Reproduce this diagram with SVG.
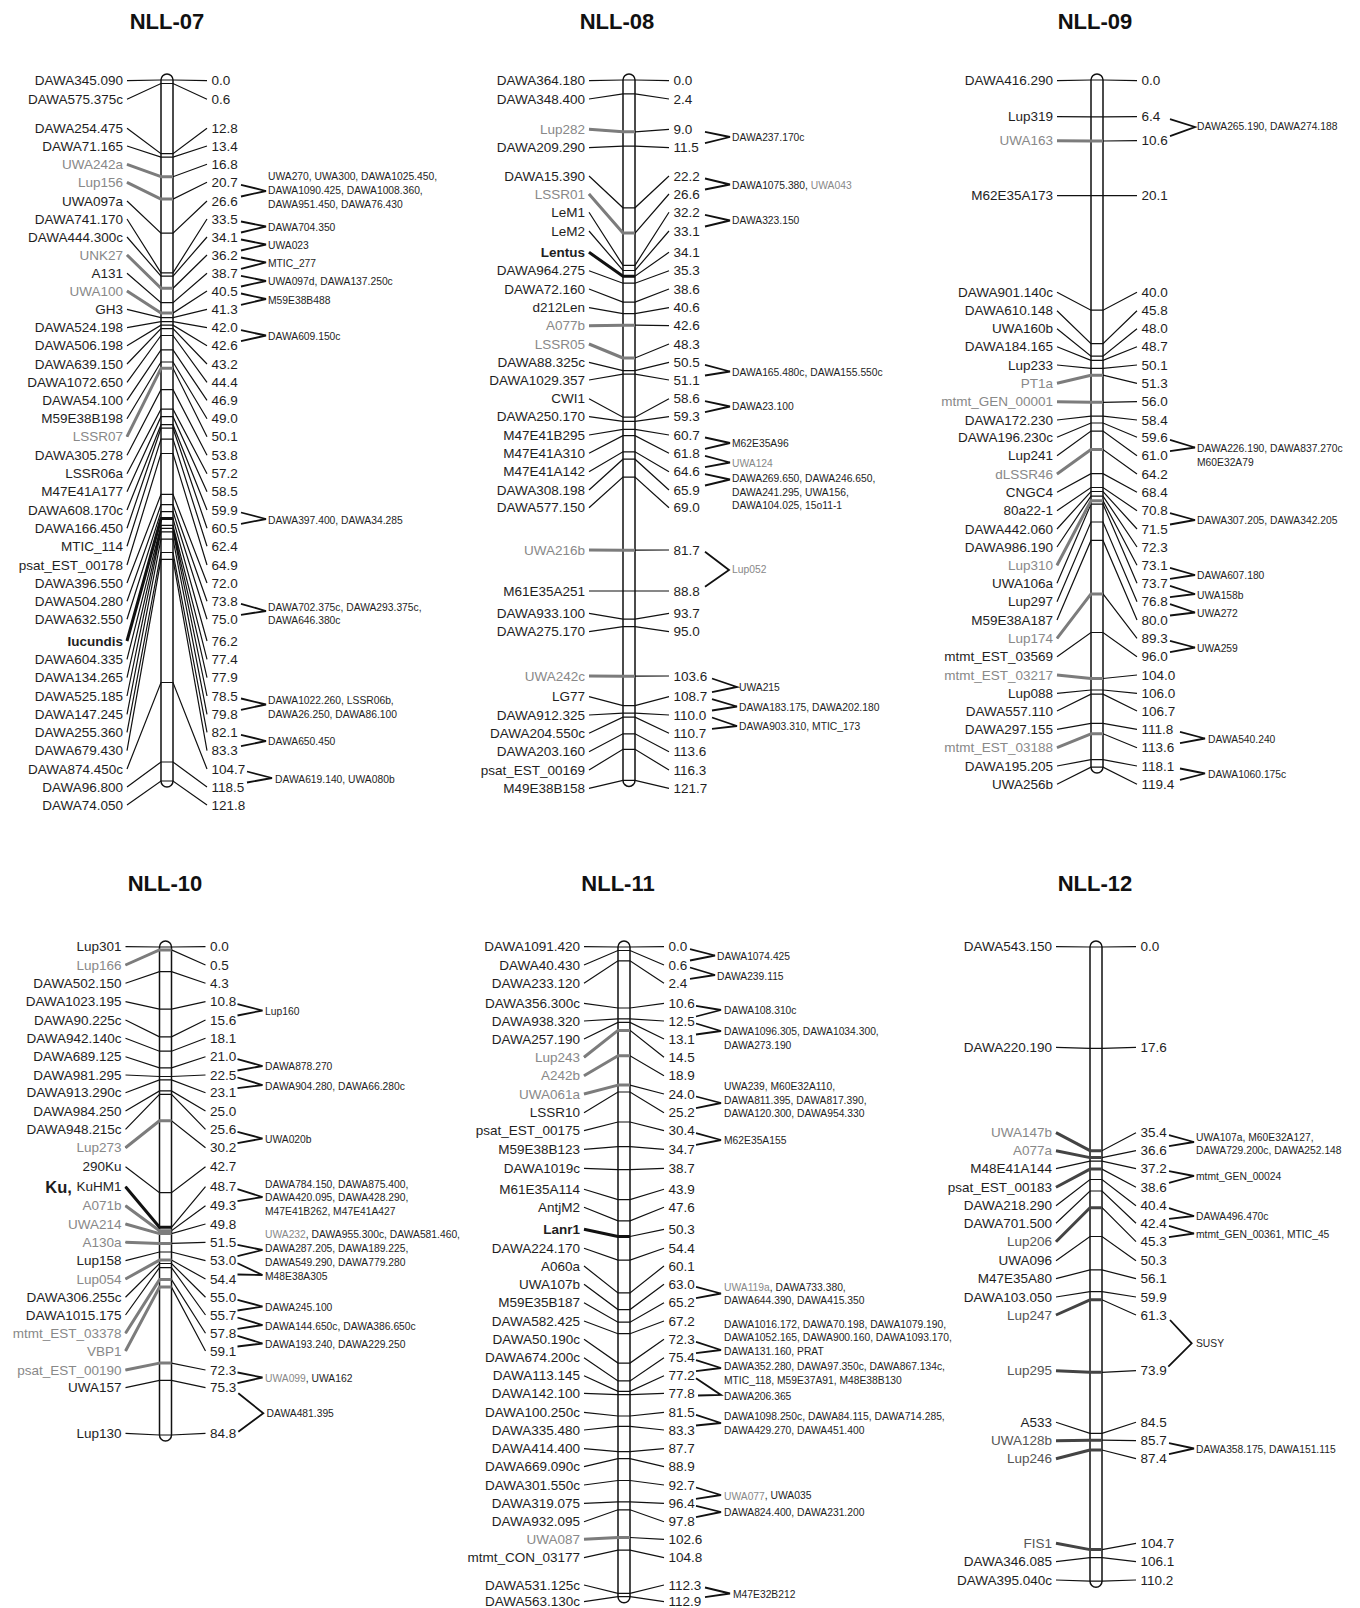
<svg xmlns="http://www.w3.org/2000/svg" width="1360" height="1608" viewBox="0 0 1360 1608">
<style>
text{font-family:"Liberation Sans",Arial,sans-serif;fill:#1e1e1e;dominant-baseline:central}
.t{font-size:22px;font-weight:bold;text-anchor:middle;fill:#111}
.l text{font-size:13.5px;text-anchor:end}
.n text{font-size:13.5px}
.s text{font-size:10.3px}
.gr{fill:#888}
.dg{fill:#555}
.bd{font-weight:bold;font-size:15px}
.bar{fill:#fff;stroke:#111;stroke-width:1.5}
.c{fill:none;stroke:#111;stroke-width:1.2}
.g{fill:none;stroke:#7c7c7c;stroke-width:3;stroke-linejoin:round}
.k{fill:none;stroke:#111;stroke-width:3;stroke-linejoin:round}
.d{fill:none;stroke:#444;stroke-width:3;stroke-linejoin:round}
.b{fill:none;stroke:#111;stroke-width:1.8}
</style>
<rect width="1360" height="1608" fill="#fff"/>

<g id="NLL-07">
<text class="t" x="167" y="21">NLL-07</text>
<rect class="bar" x="161" y="74" width="12" height="713" rx="6"/>
<g class="l">
<text x="123" y="80.7">DAWA345.090</text><text x="123" y="99.3">DAWA575.375c</text><text x="123" y="128.3">DAWA254.475</text><text x="123" y="146">DAWA71.165</text><text x="123" y="164.3" class="gr">UWA242a</text><text x="123" y="182.3" class="gr">Lup156</text><text x="123" y="201">UWA097a</text><text x="123" y="219">DAWA741.170</text><text x="123" y="237">DAWA444.300c</text><text x="123" y="255" class="gr">UNK27</text><text x="123" y="273.3">A131</text><text x="123" y="291" class="gr">UWA100</text><text x="123" y="309.3">GH3</text><text x="123" y="327.7">DAWA524.198</text><text x="123" y="345.7">DAWA506.198</text><text x="123" y="364">DAWA639.150</text><text x="123" y="382.3">DAWA1072.650</text><text x="123" y="400.3">DAWA54.100</text><text x="123" y="418.7">M59E38B198</text><text x="123" y="436.7" class="gr">LSSR07</text><text x="123" y="455.3">DAWA305.278</text><text x="123" y="473.7">LSSR06a</text><text x="123" y="491.7">M47E41A177</text><text x="123" y="510">DAWA608.170c</text><text x="123" y="528.3">DAWA166.450</text><text x="123" y="546.3">MTIC_114</text><text x="123" y="565">psat_EST_00178</text><text x="123" y="583">DAWA396.550</text><text x="123" y="601.3">DAWA504.280</text><text x="123" y="619.3">DAWA632.550</text><text x="123" y="641" class="bd">Iucundis</text><text x="123" y="659.3">DAWA604.335</text><text x="123" y="677.7">DAWA134.265</text><text x="123" y="696">DAWA525.185</text><text x="123" y="714.3">DAWA147.245</text><text x="123" y="732.3">DAWA255.360</text><text x="123" y="750.7">DAWA679.430</text><text x="123" y="769">DAWA874.450c</text><text x="123" y="787">DAWA96.800</text><text x="123" y="805">DAWA74.050</text>
</g>
<g class="n">
<text x="211.5" y="80.7">0.0</text><text x="211.5" y="99.3">0.6</text><text x="211.5" y="128.3">12.8</text><text x="211.5" y="146">13.4</text><text x="211.5" y="164.3">16.8</text><text x="211.5" y="182.3">20.7</text><text x="211.5" y="201">26.6</text><text x="211.5" y="219">33.5</text><text x="211.5" y="237">34.1</text><text x="211.5" y="255">36.2</text><text x="211.5" y="273.3">38.7</text><text x="211.5" y="291">40.5</text><text x="211.5" y="309.3">41.3</text><text x="211.5" y="327.7">42.0</text><text x="211.5" y="345.7">42.6</text><text x="211.5" y="364">43.2</text><text x="211.5" y="382.3">44.4</text><text x="211.5" y="400.3">46.9</text><text x="211.5" y="418.7">49.0</text><text x="211.5" y="436.7">50.1</text><text x="211.5" y="455.3">53.8</text><text x="211.5" y="473.7">57.2</text><text x="211.5" y="491.7">58.5</text><text x="211.5" y="510">59.9</text><text x="211.5" y="528.3">60.5</text><text x="211.5" y="546.3">62.4</text><text x="211.5" y="565">64.9</text><text x="211.5" y="583">72.0</text><text x="211.5" y="601.3">73.8</text><text x="211.5" y="619.3">75.0</text><text x="211.5" y="641">76.2</text><text x="211.5" y="659.3">77.4</text><text x="211.5" y="677.7">77.9</text><text x="211.5" y="696">78.5</text><text x="211.5" y="714.3">79.8</text><text x="211.5" y="732.3">82.1</text><text x="211.5" y="750.7">83.3</text><text x="211.5" y="769">104.7</text><text x="211.5" y="787">118.5</text><text x="211.5" y="805">121.8</text>
</g>
<g class="s">
<text x="268" y="176.7">UWA270, UWA300, DAWA1025.450,</text><text x="268" y="190.7">DAWA1090.425, DAWA1008.360,</text><text x="268" y="204.3">DAWA951.450, DAWA76.430</text>
<text x="268" y="227">DAWA704.350</text><text x="268" y="245">UWA023</text><text x="268" y="263.3">MTIC_277</text><text x="268" y="281.7">UWA097d, DAWA137.250c</text><text x="268" y="300">M59E38B488</text><text x="268" y="336">DAWA609.150c</text><text x="268" y="520">DAWA397.400, DAWA34.285</text>
<text x="268" y="607.3">DAWA702.375c, DAWA293.375c,</text><text x="268" y="620.7">DAWA646.380c</text>
<text x="268" y="700.7">DAWA1022.260, LSSR06b,</text><text x="268" y="714">DAWA26.250, DAWA86.100</text>
<text x="268" y="741.7">DAWA650.450</text><text x="275" y="779">DAWA619.140, UWA080b</text>
</g>
</g>

<g id="NLL-08">
<text class="t" x="617" y="21">NLL-08</text>
<rect class="bar" x="623" y="74" width="12" height="712.4" rx="6"/>
<g class="l">
<text x="585" y="80.7">DAWA364.180</text><text x="585" y="99">DAWA348.400</text><text x="585" y="129.3" class="gr">Lup282</text><text x="585" y="147.7">DAWA209.290</text><text x="585" y="176">DAWA15.390</text><text x="585" y="194" class="gr">LSSR01</text><text x="585" y="212.3">LeM1</text><text x="585" y="231">LeM2</text><text x="585" y="252.3" class="bd">Lentus</text><text x="585" y="270.7">DAWA964.275</text><text x="585" y="289">DAWA72.160</text><text x="585" y="307.7">d212Len</text><text x="585" y="325.7" class="gr">A077b</text><text x="585" y="344" class="gr">LSSR05</text><text x="585" y="362.3">DAWA88.325c</text><text x="585" y="380">DAWA1029.357</text><text x="585" y="398.7">CWI1</text><text x="585" y="416.7">DAWA250.170</text><text x="585" y="435">M47E41B295</text><text x="585" y="453.3">M47E41A310</text><text x="585" y="471.7">M47E41A142</text><text x="585" y="490">DAWA308.198</text><text x="585" y="507.7">DAWA577.150</text><text x="585" y="550" class="gr">UWA216b</text><text x="585" y="591">M61E35A251</text><text x="585" y="613.3">DAWA933.100</text><text x="585" y="631.7">DAWA275.170</text><text x="585" y="676" class="gr">UWA242c</text><text x="585" y="696.7">LG77</text><text x="585" y="715">DAWA912.325</text><text x="585" y="733.3">DAWA204.550c</text><text x="585" y="751.7">DAWA203.160</text><text x="585" y="770">psat_EST_00169</text><text x="585" y="788.3">M49E38B158</text>
</g>
<g class="n">
<text x="673.5" y="80.7">0.0</text><text x="673.5" y="99">2.4</text><text x="673.5" y="129.3">9.0</text><text x="673.5" y="147.7">11.5</text><text x="673.5" y="176">22.2</text><text x="673.5" y="194">26.6</text><text x="673.5" y="212.3">32.2</text><text x="673.5" y="231">33.1</text><text x="673.5" y="252.3">34.1</text><text x="673.5" y="270.7">35.3</text><text x="673.5" y="289">38.6</text><text x="673.5" y="307.7">40.6</text><text x="673.5" y="325.7">42.6</text><text x="673.5" y="344">48.3</text><text x="673.5" y="362.3">50.5</text><text x="673.5" y="380">51.1</text><text x="673.5" y="398.7">58.6</text><text x="673.5" y="416.7">59.3</text><text x="673.5" y="435">60.7</text><text x="673.5" y="453.3">61.8</text><text x="673.5" y="471.7">64.6</text><text x="673.5" y="490">65.9</text><text x="673.5" y="507.7">69.0</text><text x="673.5" y="550">81.7</text><text x="673.5" y="591">88.8</text><text x="673.5" y="613.3">93.7</text><text x="673.5" y="631.7">95.0</text><text x="673.5" y="676">103.6</text><text x="673.5" y="696.7">108.7</text><text x="673.5" y="715">110.0</text><text x="673.5" y="733.3">110.7</text><text x="673.5" y="751.7">113.6</text><text x="673.5" y="770">116.3</text><text x="673.5" y="788.3">121.7</text>
</g>
<g class="s">
<text x="732" y="137.3">DAWA237.170c</text><text x="732" y="185">DAWA1075.380, <tspan class="gr">UWA043</tspan></text><text x="732" y="220.5">DAWA323.150</text><text x="732" y="372.3">DAWA165.480c, DAWA155.550c</text><text x="732" y="406.5">DAWA23.100</text><text x="732" y="443.3">M62E35A96</text><text x="732" y="463.3" class="gr">UWA124</text>
<text x="732" y="478.3">DAWA269.650, DAWA246.650,</text><text x="732" y="492">DAWA241.295, UWA156,</text><text x="732" y="505.3">DAWA104.025, 15o11-1</text>
<text x="732" y="569.5" class="gr">Lup052</text><text x="739" y="687.3">UWA215</text><text x="739" y="707.3">DAWA183.175, DAWA202.180</text><text x="739" y="726.7">DAWA903.310, MTIC_173</text>
</g>
</g>

<g id="NLL-09">
<text class="t" x="1095" y="21">NLL-09</text>
<rect class="bar" x="1091" y="74" width="12" height="699.1" rx="6"/>
<g class="l">
<text x="1053" y="80.7">DAWA416.290</text><text x="1053" y="116.7">Lup319</text><text x="1053" y="140.7" class="gr">UWA163</text><text x="1053" y="195.7">M62E35A173</text><text x="1053" y="292.3">DAWA901.140c</text><text x="1053" y="310.7">DAWA610.148</text><text x="1053" y="328.7">UWA160b</text><text x="1053" y="346.7">DAWA184.165</text><text x="1053" y="365">Lup233</text><text x="1053" y="383.3" class="gr">PT1a</text><text x="1053" y="401.7" class="gr">mtmt_GEN_00001</text><text x="1053" y="420">DAWA172.230</text><text x="1053" y="437.3">DAWA196.230c</text><text x="1053" y="455.7">Lup241</text><text x="1053" y="474" class="gr">dLSSR46</text><text x="1053" y="492.3">CNGC4</text><text x="1053" y="510.7">80a22-1</text><text x="1053" y="529">DAWA442.060</text><text x="1053" y="547">DAWA986.190</text><text x="1053" y="565.3" class="gr">Lup310</text><text x="1053" y="583.3">UWA106a</text><text x="1053" y="601.7">Lup297</text><text x="1053" y="620">M59E38A187</text><text x="1053" y="638.3" class="gr">Lup174</text><text x="1053" y="656.7">mtmt_EST_03569</text><text x="1053" y="675" class="gr">mtmt_EST_03217</text><text x="1053" y="693.3">Lup088</text><text x="1053" y="711">DAWA557.110</text><text x="1053" y="729.3">DAWA297.155</text><text x="1053" y="747.7" class="gr">mtmt_EST_03188</text><text x="1053" y="766">DAWA195.205</text><text x="1053" y="784.3">UWA256b</text>
</g>
<g class="n">
<text x="1141.5" y="80.7">0.0</text><text x="1141.5" y="116.7">6.4</text><text x="1141.5" y="140.7">10.6</text><text x="1141.5" y="195.7">20.1</text><text x="1141.5" y="292.3">40.0</text><text x="1141.5" y="310.7">45.8</text><text x="1141.5" y="328.7">48.0</text><text x="1141.5" y="346.7">48.7</text><text x="1141.5" y="365">50.1</text><text x="1141.5" y="383.3">51.3</text><text x="1141.5" y="401.7">56.0</text><text x="1141.5" y="420">58.4</text><text x="1141.5" y="437.3">59.6</text><text x="1141.5" y="455.7">61.0</text><text x="1141.5" y="474">64.2</text><text x="1141.5" y="492.3">68.4</text><text x="1141.5" y="510.7">70.8</text><text x="1141.5" y="529">71.5</text><text x="1141.5" y="547">72.3</text><text x="1141.5" y="565.3">73.1</text><text x="1141.5" y="583.3">73.7</text><text x="1141.5" y="601.7">76.8</text><text x="1141.5" y="620">80.0</text><text x="1141.5" y="638.3">89.3</text><text x="1141.5" y="656.7">96.0</text><text x="1141.5" y="675">104.0</text><text x="1141.5" y="693.3">106.0</text><text x="1141.5" y="711">106.7</text><text x="1141.5" y="729.3">111.8</text><text x="1141.5" y="747.7">113.6</text><text x="1141.5" y="766">118.1</text><text x="1141.5" y="784.3">119.4</text>
</g>
<g class="s">
<text x="1197" y="126.7">DAWA265.190, DAWA274.188</text>
<text x="1197" y="448.3">DAWA226.190, DAWA837.270c</text><text x="1197" y="462.3">M60E32A79</text>
<text x="1197" y="520.7">DAWA307.205, DAWA342.205</text><text x="1197" y="575.7">DAWA607.180</text><text x="1197" y="595">UWA158b</text><text x="1197" y="613.3">UWA272</text><text x="1197" y="648.3">UWA259</text><text x="1208" y="739.3">DAWA540.240</text><text x="1208" y="774">DAWA1060.175c</text>
</g>
</g>

<g id="NLL-10">
<text class="t" x="165" y="883.5">NLL-10</text>
<rect class="bar" x="159.5" y="941" width="12" height="500" rx="6"/>
<g class="l">
<text x="121.5" y="946.7">Lup301</text><text x="121.5" y="965" class="gr">Lup166</text><text x="121.5" y="983.3">DAWA502.150</text><text x="121.5" y="1001.7">DAWA1023.195</text><text x="121.5" y="1020">DAWA90.225c</text><text x="121.5" y="1038.3">DAWA942.140c</text><text x="121.5" y="1056.7">DAWA689.125</text><text x="121.5" y="1075">DAWA981.295</text><text x="121.5" y="1092.7">DAWA913.290c</text><text x="121.5" y="1111">DAWA984.250</text><text x="121.5" y="1129.3">DAWA948.215c</text><text x="121.5" y="1147.7" class="gr">Lup273</text><text x="121.5" y="1166.7">290Ku</text><text x="121.5" y="1186.7"><tspan font-weight="bold" font-size="16.5px">Ku, </tspan>KuHM1</text><text x="121.5" y="1205.7" class="gr">A071b</text><text x="121.5" y="1224" class="gr">UWA214</text><text x="121.5" y="1242.3" class="gr">A130a</text><text x="121.5" y="1260.7">Lup158</text><text x="121.5" y="1279" class="gr">Lup054</text><text x="121.5" y="1297.3">DAWA306.255c</text><text x="121.5" y="1315">DAWA1015.175</text><text x="121.5" y="1333.3" class="gr">mtmt_EST_03378</text><text x="121.5" y="1351" class="gr">VBP1</text><text x="121.5" y="1370" class="gr">psat_EST_00190</text><text x="121.5" y="1387.7">UWA157</text><text x="121.5" y="1433.3">Lup130</text>
</g>
<g class="n">
<text x="210" y="946.7">0.0</text><text x="210" y="965">0.5</text><text x="210" y="983.3">4.3</text><text x="210" y="1001.7">10.8</text><text x="210" y="1020">15.6</text><text x="210" y="1038.3">18.1</text><text x="210" y="1056.7">21.0</text><text x="210" y="1075">22.5</text><text x="210" y="1092.7">23.1</text><text x="210" y="1111">25.0</text><text x="210" y="1129.3">25.6</text><text x="210" y="1147.7">30.2</text><text x="210" y="1166.7">42.7</text><text x="210" y="1186.7">48.7</text><text x="210" y="1205.7">49.3</text><text x="210" y="1224">49.8</text><text x="210" y="1242.3">51.5</text><text x="210" y="1260.7">53.0</text><text x="210" y="1279">54.4</text><text x="210" y="1297.3">55.0</text><text x="210" y="1315">55.7</text><text x="210" y="1333.3">57.8</text><text x="210" y="1351">59.1</text><text x="210" y="1370">72.3</text><text x="210" y="1387.7">75.3</text><text x="210" y="1433.3">84.8</text>
</g>
<g class="s">
<text x="265" y="1011">Lup160</text><text x="265" y="1066.7">DAWA878.270</text><text x="265" y="1086">DAWA904.280, DAWA66.280c</text><text x="265" y="1139.3">UWA020b</text>
<text x="265" y="1184">DAWA784.150, DAWA875.400,</text><text x="265" y="1197.7">DAWA420.095, DAWA428.290,</text><text x="265" y="1211">M47E41B262, M47E41A427</text>
<text x="265" y="1234.3"><tspan class="gr">UWA232</tspan>, DAWA955.300c, DAWA581.460,</text><text x="265" y="1248.3">DAWA287.205, DAWA189.225,</text><text x="265" y="1262">DAWA549.290, DAWA779.280</text>
<text x="265" y="1276.7">M48E38A305</text><text x="265" y="1307.3">DAWA245.100</text><text x="265" y="1326">DAWA144.650c, DAWA386.650c</text><text x="265" y="1344.3">DAWA193.240, DAWA229.250</text><text x="265" y="1378.3"><tspan class="gr">UWA099</tspan>, UWA162</text><text x="266.5" y="1413.3">DAWA481.395</text>
</g>
</g>

<g id="NLL-11">
<text class="t" x="618" y="883.5">NLL-11</text>
<rect class="bar" x="618" y="941" width="12" height="661.7" rx="6"/>
<g class="l">
<text x="580" y="946.7">DAWA1091.420</text><text x="580" y="965">DAWA40.430</text><text x="580" y="983.3">DAWA233.120</text><text x="580" y="1003.3">DAWA356.300c</text><text x="580" y="1021">DAWA938.320</text><text x="580" y="1039">DAWA257.190</text><text x="580" y="1057.3" class="gr">Lup243</text><text x="580" y="1075.7" class="gr">A242b</text><text x="580" y="1094" class="gr">UWA061a</text><text x="580" y="1112.7">LSSR10</text><text x="580" y="1130.7">psat_EST_00175</text><text x="580" y="1149.3">M59E38B123</text><text x="580" y="1168.3">DAWA1019c</text><text x="580" y="1189.3">M61E35A114</text><text x="580" y="1207.3">AntjM2</text><text x="580" y="1229.3" class="bd">Lanr1</text><text x="580" y="1248.3">DAWA224.170</text><text x="580" y="1266">A060a</text><text x="580" y="1284.3">UWA107b</text><text x="580" y="1302.7">M59E35B187</text><text x="580" y="1321">DAWA582.425</text><text x="580" y="1339.3">DAWA50.190c</text><text x="580" y="1357.7">DAWA674.200c</text><text x="580" y="1375.7">DAWA113.145</text><text x="580" y="1393.3">DAWA142.100</text><text x="580" y="1412.3">DAWA100.250c</text><text x="580" y="1430">DAWA335.480</text><text x="580" y="1448.7">DAWA414.400</text><text x="580" y="1466.7">DAWA669.090c</text><text x="580" y="1485">DAWA301.550c</text><text x="580" y="1503.3">DAWA319.075</text><text x="580" y="1521.7">DAWA932.095</text><text x="580" y="1539.3" class="gr">UWA087</text><text x="580" y="1557.7">mtmt_CON_03177</text><text x="580" y="1585">DAWA531.125c</text><text x="580" y="1601.7">DAWA563.130c</text>
</g>
<g class="n">
<text x="668.5" y="946.7">0.0</text><text x="668.5" y="965">0.6</text><text x="668.5" y="983.3">2.4</text><text x="668.5" y="1003.3">10.6</text><text x="668.5" y="1021">12.5</text><text x="668.5" y="1039">13.1</text><text x="668.5" y="1057.3">14.5</text><text x="668.5" y="1075.7">18.9</text><text x="668.5" y="1094">24.0</text><text x="668.5" y="1112.7">25.2</text><text x="668.5" y="1130.7">30.4</text><text x="668.5" y="1149.3">34.7</text><text x="668.5" y="1168.3">38.7</text><text x="668.5" y="1189.3">43.9</text><text x="668.5" y="1207.3">47.6</text><text x="668.5" y="1229.3">50.3</text><text x="668.5" y="1248.3">54.4</text><text x="668.5" y="1266">60.1</text><text x="668.5" y="1284.3">63.0</text><text x="668.5" y="1302.7">65.2</text><text x="668.5" y="1321">67.2</text><text x="668.5" y="1339.3">72.3</text><text x="668.5" y="1357.7">75.4</text><text x="668.5" y="1375.7">77.2</text><text x="668.5" y="1393.3">77.8</text><text x="668.5" y="1412.3">81.5</text><text x="668.5" y="1430">83.3</text><text x="668.5" y="1448.7">87.7</text><text x="668.5" y="1466.7">88.9</text><text x="668.5" y="1485">92.7</text><text x="668.5" y="1503.3">96.4</text><text x="668.5" y="1521.7">97.8</text><text x="668.5" y="1539.3">102.6</text><text x="668.5" y="1557.7">104.8</text><text x="668.5" y="1585">112.3</text><text x="668.5" y="1601.7">112.9</text>
</g>
<g class="s">
<text x="717" y="956">DAWA1074.425</text><text x="717" y="976">DAWA239.115</text><text x="724" y="1010.7">DAWA108.310c</text>
<text x="724" y="1031.7">DAWA1096.305, DAWA1034.300,</text><text x="724" y="1045.7">DAWA273.190</text>
<text x="724" y="1086">UWA239, M60E32A110,</text><text x="724" y="1100">DAWA811.395, DAWA817.390,</text><text x="724" y="1113.3">DAWA120.300, DAWA954.330</text>
<text x="724" y="1140.7">M62E35A155</text>
<text x="724" y="1287.3"><tspan class="gr">UWA119a</tspan>, DAWA733.380,</text><text x="724" y="1300.7">DAWA644.390, DAWA415.350</text>
<text x="724" y="1324">DAWA1016.172, DAWA70.198, DAWA1079.190,</text><text x="724" y="1337.7">DAWA1052.165, DAWA900.160, DAWA1093.170,</text><text x="724" y="1351">DAWA131.160, PRAT</text>
<text x="724" y="1366.7">DAWA352.280, DAWA97.350c, DAWA867.134c,</text><text x="724" y="1380">MTIC_118, M59E37A91, M48E38B130</text>
<text x="724" y="1396">DAWA206.365</text>
<text x="724" y="1416.7">DAWA1098.250c, DAWA84.115, DAWA714.285,</text><text x="724" y="1430.7">DAWA429.270, DAWA451.400</text>
<text x="724" y="1495.7"><tspan class="gr">UWA077</tspan>, UWA035</text><text x="724" y="1512.7">DAWA824.400, DAWA231.200</text><text x="733" y="1594.3">M47E32B212</text>
</g>
</g>

<g id="NLL-12">
<text class="t" x="1095" y="883.5">NLL-12</text>
<rect class="bar" x="1090" y="941" width="12" height="646.2" rx="6"/>
<g class="l">
<text x="1052" y="946.7">DAWA543.150</text><text x="1052" y="1047.3">DAWA220.190</text><text x="1052" y="1132.7" class="gr">UWA147b</text><text x="1052" y="1150.7" class="gr">A077a</text><text x="1052" y="1168.7">M48E41A144</text><text x="1052" y="1187.3">psat_EST_00183</text><text x="1052" y="1205.7">DAWA218.290</text><text x="1052" y="1223.3">DAWA701.500</text><text x="1052" y="1241.7" class="dg">Lup206</text><text x="1052" y="1260.7">UWA096</text><text x="1052" y="1278.7">M47E35A80</text><text x="1052" y="1297">DAWA103.050</text><text x="1052" y="1315" class="dg">Lup247</text><text x="1052" y="1370.7" class="dg">Lup295</text><text x="1052" y="1422.3">A533</text><text x="1052" y="1440.7" class="dg">UWA128b</text><text x="1052" y="1458.7" class="dg">Lup246</text><text x="1052" y="1543.3" class="dg">FIS1</text><text x="1052" y="1561.7">DAWA346.085</text><text x="1052" y="1580">DAWA395.040c</text>
</g>
<g class="n">
<text x="1140.5" y="946.7">0.0</text><text x="1140.5" y="1047.3">17.6</text><text x="1140.5" y="1132.7">35.4</text><text x="1140.5" y="1150.7">36.6</text><text x="1140.5" y="1168.7">37.2</text><text x="1140.5" y="1187.3">38.6</text><text x="1140.5" y="1205.7">40.4</text><text x="1140.5" y="1223.3">42.4</text><text x="1140.5" y="1241.7">45.3</text><text x="1140.5" y="1260.7">50.3</text><text x="1140.5" y="1278.7">56.1</text><text x="1140.5" y="1297">59.9</text><text x="1140.5" y="1315">61.3</text><text x="1140.5" y="1370.7">73.9</text><text x="1140.5" y="1422.3">84.5</text><text x="1140.5" y="1440.7">85.7</text><text x="1140.5" y="1458.7">87.4</text><text x="1140.5" y="1543.3">104.7</text><text x="1140.5" y="1561.7">106.1</text><text x="1140.5" y="1580">110.2</text>
</g>
<g class="s">
<text x="1196" y="1137.3">UWA107a, M60E32A127,</text><text x="1196" y="1150">DAWA729.200c, DAWA252.148</text>
<text x="1196" y="1176.7">mtmt_GEN_00024</text><text x="1196" y="1216.7">DAWA496.470c</text><text x="1196" y="1234.3">mtmt_GEN_00361, MTIC_45</text><text x="1196" y="1343.3">SUSY</text><text x="1196" y="1449">DAWA358.175, DAWA151.115</text>
</g>
</g>

<g id="connectors">
<path class="c" d="M127 80.7L161 80H173L207 80.7M127 99.3L161 83.5H173L207 99.3M127 128.3L161 153.7H173L207 128.3M127 146L161 157.1H173L207 146M127 164.3L161 176.7H173L207 164.3M127 182.3L161 199.1H173L207 182.3M127 201L161 233.1H173L207 201M127 219L161 272.8H173L207 219M127 237L161 276.2H173L207 237M127 255L161 288.3H173L207 255M127 273.3L161 302.7H173L207 273.3M127 291L161 313.1H173L207 291M127 309.3L161 317.7H173L207 309.3M127 327.7L161 321.7H173L207 327.7M127 345.7L161 325.2H173L207 345.7M127 364L161 328.6H173L207 364M127 382.3L161 335.5H173L207 382.3M127 400.3L161 349.9H173L207 400.3M127 418.7L161 362H173L207 418.7M127 436.7L161 368.3H173L207 436.7M127 455.3L161 389.6H173L207 455.3M127 473.7L161 409.2H173L207 473.7M127 491.7L161 416.7H173L207 491.7M127 510L161 424.7H173L207 510M127 528.3L161 428.2H173L207 528.3M127 546.3L161 439.1H173L207 546.3M127 565L161 453.5H173L207 565M127 583L161 494.4H173L207 583M127 601.3L161 504.7H173L207 601.3M127 619.3L161 511.6H173L207 619.3M127 641L161 518.5H173L207 641M127 659.3L161 525.4H173L207 659.3M127 677.7L161 528.3H173L207 677.7M127 696L161 531.8H173L207 696M127 714.3L161 539.2H173L207 714.3M127 732.3L161 552.5H173L207 732.3M127 750.7L161 559.4H173L207 750.7M127 769L161 682.5H173L207 769M127 787L161 762H173L207 787M127 805L161 781H173L207 805"/>
<path class="g" d="M127 164.3L161 176.7H173M127 182.3L161 199.1H173M127 255L161 288.3H173M127 291L161 313.1H173M127 436.7L161 368.3H173"/>
<path class="k" d="M127 641L161 518.5H173"/>
<path class="b" d="M241 184.8L266 191L241 196.5M241 221.5L266 226.5L241 232.5M241 239.5L266 244.5L241 250.5M241 257.5L266 262.5L241 268.8M241 275.8L266 281L241 286.5M241 293.5L266 299L241 304.8M241 330.2L266 335.5L241 341.2M241 512.5L266 519L241 523.8M241 603.8L266 611L241 614.8M241 698.5L266 704.5L241 709.8M241 734.8L266 741L241 746.2M247 771.5L272 778L247 782.5"/>

<path class="c" d="M589 80.7L623 80H635L669 80.7M589 99L623 93.8H635L669 99M589 129.3L623 131.8H635L669 129.3M589 147.7L623 146.2H635L669 147.7M589 176L623 207.8H635L669 176M589 194L623 233.1H635L669 194M589 212.3L623 265.3H635L669 212.3M589 231L623 270.5H635L669 231M589 252.3L623 276.2H635L669 252.3M589 270.7L623 283.2H635L669 270.7M589 289L623 302.1H635L669 289M589 307.7L623 313.7H635L669 307.7M589 325.7L623 325.2H635L669 325.7M589 344L623 358H635L669 344M589 362.3L623 370.6H635L669 362.3M589 380L623 374.1H635L669 380M589 398.7L623 417.2H635L669 398.7M589 416.7L623 421.3H635L669 416.7M589 435L623 429.3H635L669 435M589 453.3L623 435.7H635L669 453.3M589 471.7L623 451.8H635L669 471.7M589 490L623 459.2H635L669 490M589 507.7L623 477.1H635L669 507.7M589 550L623 550.2H635L669 550M589 591L623 591H635L669 591M589 613.3L623 619.2H635L669 613.3M589 631.7L623 626.7H635L669 631.7M589 676L623 676.2H635L669 676M589 696.7L623 705.6H635L669 696.7M589 715L623 713.1H635L669 715M589 733.3L623 717.1H635L669 733.3M589 751.7L623 733.8H635L669 751.7M589 770L623 749.3H635L669 770M589 788.3L623 780.4H635L669 788.3"/>
<path class="g" d="M589 129.3L623 131.8H635M589 194L623 233.1H635M589 325.7L623 325.2H635M589 344L623 358H635M589 550L623 550.2H635M589 676L623 676.2H635"/>
<path class="k" d="M589 252.3L623 276.2H635"/>
<path class="b" d="M705 131.8L730 137L705 143.2M705 178.5L730 184.5L705 189.5M705 214.8L730 220.5L705 226.5M705 364.8L730 371.5L705 375.5M705 401.2L730 406.5L705 412.2M705 437.5L730 443L705 448.8M705 455.8L730 462.5L705 467.2M705 474.2L730 479.5L705 485.5M705 551.7L729 570L705 586.7M712 678.5L737 687L712 692.2M712 699.2L737 706.5L712 710.5M712 717.5L737 726L712 728.8"/>

<path class="c" d="M1057 80.7L1091 80H1103L1137 80.7M1057 116.7L1091 116.8H1103L1137 116.7M1057 140.7L1091 141H1103L1137 140.7M1057 195.7L1091 195.7H1103L1137 195.7M1057 292.3L1091 310.2H1103L1137 292.3M1057 310.7L1091 343.6H1103L1137 310.7M1057 328.7L1091 356.2H1103L1137 328.7M1057 346.7L1091 360.3H1103L1137 346.7M1057 365L1091 368.3H1103L1137 365M1057 383.3L1091 375.2H1103L1137 383.3M1057 401.7L1091 402.3H1103L1137 401.7M1057 420L1091 416.1H1103L1137 420M1057 437.3L1091 423H1103L1137 437.3M1057 455.7L1091 431.1H1103L1137 455.7M1057 474L1091 449.5H1103L1137 474M1057 492.3L1091 473.6H1103L1137 492.3M1057 510.7L1091 487.5H1103L1137 510.7M1057 529L1091 491.5H1103L1137 529M1057 547L1091 496.1H1103L1137 547M1057 565.3L1091 500.7H1103L1137 565.3M1057 583.3L1091 504.1H1103L1137 583.3M1057 601.7L1091 522H1103L1137 601.7M1057 620L1091 540.4H1103L1137 620M1057 638.3L1091 593.9H1103L1137 638.3M1057 656.7L1091 632.5H1103L1137 656.7M1057 675L1091 678.5H1103L1137 675M1057 693.3L1091 690H1103L1137 693.3M1057 711L1091 694.1H1103L1137 711M1057 729.3L1091 723.4H1103L1137 729.3M1057 747.7L1091 733.8H1103L1137 747.7M1057 766L1091 759.7H1103L1137 766M1057 784.3L1091 767.1H1103L1137 784.3"/>
<path class="g" d="M1057 140.7L1091 141H1103M1057 383.3L1091 375.2H1103M1057 401.7L1091 402.3H1103M1057 474L1091 449.5H1103M1057 565.3L1091 500.7H1103M1057 638.3L1091 593.9H1103M1057 675L1091 678.5H1103M1057 747.7L1091 733.8H1103"/>
<path class="b" d="M1170 119.2L1195 127L1170 136.2M1170 439.8L1195 447.5L1170 451.2M1170 513.2L1195 520L1170 524.5M1170 567.8L1195 575L1170 578.8M1170 585.8L1195 594L1170 597.2M1170 604.2L1195 612.5L1170 615.5M1170 640.8L1195 647.5L1170 652.2M1180 731.8L1205 738.5L1180 743.2M1180 768.5L1205 773.5L1180 779.8"/>

<path class="c" d="M125.5 946.7L159.5 947H171.5L205.5 946.7M125.5 965L159.5 949.9H171.5L205.5 965M125.5 983.3L159.5 971.7H171.5L205.5 983.3M125.5 1001.7L159.5 1009.2H171.5L205.5 1001.7M125.5 1020L159.5 1036.8H171.5L205.5 1020M125.5 1038.3L159.5 1051.2H171.5L205.5 1038.3M125.5 1056.7L159.5 1067.9H171.5L205.5 1056.7M125.5 1075L159.5 1076.5H171.5L205.5 1075M125.5 1092.7L159.5 1079.9H171.5L205.5 1092.7M125.5 1111L159.5 1090.9H171.5L205.5 1111M125.5 1129.3L159.5 1094.3H171.5L205.5 1129.3M125.5 1147.7L159.5 1120.8H171.5L205.5 1147.7M125.5 1166.7L159.5 1192.7H171.5L205.5 1166.7M125.5 1186.7L159.5 1227.3H171.5L205.5 1186.7M125.5 1205.7L159.5 1230.7H171.5L205.5 1205.7M125.5 1224L159.5 1233.6H171.5L205.5 1224M125.5 1242.3L159.5 1243.4H171.5L205.5 1242.3M125.5 1260.7L159.5 1252H171.5L205.5 1260.7M125.5 1279L159.5 1260.1H171.5L205.5 1279M125.5 1297.3L159.5 1263.5H171.5L205.5 1297.3M125.5 1315L159.5 1267.6H171.5L205.5 1315M125.5 1333.3L159.5 1279.6H171.5L205.5 1333.3M125.5 1351L159.5 1287.1H171.5L205.5 1351M125.5 1370L159.5 1363.1H171.5L205.5 1370M125.5 1387.7L159.5 1380.4H171.5L205.5 1387.7M125.5 1433.3L159.5 1435H171.5L205.5 1433.3"/>
<path class="g" d="M125.5 965L159.5 949.9H171.5M125.5 1147.7L159.5 1120.8H171.5M125.5 1205.7L159.5 1230.7H171.5M125.5 1224L159.5 1233.6H171.5M125.5 1242.3L159.5 1243.4H171.5M125.5 1279L159.5 1260.1H171.5M125.5 1333.3L159.5 1279.6H171.5M125.5 1351L159.5 1287.1H171.5M125.5 1370L159.5 1363.1H171.5"/>
<path class="k" d="M125.5 1186.7L159.5 1227.3H171.5"/>
<path class="b" d="M237.5 1004.2L262.5 1010.5L237.5 1015.5M237.5 1059.2L262.5 1066L237.5 1070.5M237.5 1077.5L262.5 1085L237.5 1088.2M237.5 1131.8L262.5 1138.5L237.5 1143.2M237.5 1189.2L262.5 1197L237.5 1201.2M237.5 1244.8L262.5 1250L237.5 1256.2M237.5 1263.2L262.5 1275L237.5 1274.5M237.5 1299.8L262.5 1306.5L237.5 1310.5M237.5 1317.5L262.5 1325L237.5 1328.8M237.5 1335.8L262.5 1343.5L237.5 1346.5M237.5 1372.5L262.5 1377.5L237.5 1383.2M238.3 1393.3L263.3 1413.3L238.3 1431.7"/>

<path class="c" d="M584 946.7L618 947H630L664 946.7M584 965L618 950.5H630L664 965M584 983.3L618 960.8H630L664 983.3M584 1003.3L618 1008H630L664 1003.3M584 1021L618 1018.9H630L664 1021M584 1039L618 1022.4H630L664 1039M584 1057.3L618 1030.4H630L664 1057.3M584 1075.7L618 1055.8H630L664 1075.7M584 1094L618 1085.1H630L664 1094M584 1112.7L618 1092H630L664 1112.7M584 1130.7L618 1122H630L664 1130.7M584 1149.3L618 1146.7H630L664 1149.3M584 1168.3L618 1169.7H630L664 1168.3M584 1189.3L618 1199.6H630L664 1189.3M584 1207.3L618 1220.9H630L664 1207.3M584 1229.3L618 1236.5H630L664 1229.3M584 1248.3L618 1260.1H630L664 1248.3M584 1266L618 1292.9H630L664 1266M584 1284.3L618 1309.6H630L664 1284.3M584 1302.7L618 1322.2H630L664 1302.7M584 1321L618 1333.7H630L664 1321M584 1339.3L618 1363.1H630L664 1339.3M584 1357.7L618 1380.9H630L664 1357.7M584 1375.7L618 1391.3H630L664 1375.7M584 1393.3L618 1394.7H630L664 1393.3M584 1412.3L618 1416H630L664 1412.3M584 1430L618 1426.4H630L664 1430M584 1448.7L618 1451.7H630L664 1448.7M584 1466.7L618 1458.6H630L664 1466.7M584 1485L618 1480.5H630L664 1485M584 1503.3L618 1501.8H630L664 1503.3M584 1521.7L618 1509.8H630L664 1521.7M584 1539.3L618 1537.5H630L664 1539.3M584 1557.7L618 1550.1H630L664 1557.7M584 1585L618 1593.3H630L664 1585M584 1601.7L618 1596.7H630L664 1601.7"/>
<path class="g" d="M584 1057.3L618 1030.4H630M584 1075.7L618 1055.8H630M584 1094L618 1085.1H630M584 1539.3L618 1537.5H630"/>
<path class="k" d="M584 1229.3L618 1236.5H630"/>
<path class="b" d="M690 949.2L715 955.5L690 960.5M690 967.5L715 975L690 978.8M696 1005.8L721 1010L696 1016.5M696 1023.5L721 1031L696 1034.5M696 1096.5L721 1103L696 1108.2M696 1133.2L721 1140L696 1144.8M696 1286.8L721 1293.5L696 1298.2M696 1341.8L721 1350L696 1353.2M696 1360.2L721 1368L696 1371.2M696 1378.2L721 1395L698 1395.5M696 1414.8L721 1423L696 1425.5M696 1487.5L721 1495L696 1498.8M696 1505.8L721 1512L696 1517.2M705 1587.5L730 1593.5L705 1597.2"/>

<path class="c" d="M1056 946.7L1090 947H1102L1136 946.7M1056 1047.3L1090 1048.3H1102L1136 1047.3M1056 1132.7L1090 1150.7H1102L1136 1132.7M1056 1150.7L1090 1157.6H1102L1136 1150.7M1056 1168.7L1090 1161.1H1102L1136 1168.7M1056 1187.3L1090 1169.1H1102L1136 1187.3M1056 1205.7L1090 1179.5H1102L1136 1205.7M1056 1223.3L1090 1191H1102L1136 1223.3M1056 1241.7L1090 1207.7H1102L1136 1241.7M1056 1260.7L1090 1236.5H1102L1136 1260.7M1056 1278.7L1090 1269.9H1102L1136 1278.7M1056 1297L1090 1291.7H1102L1136 1297M1056 1315L1090 1299.8H1102L1136 1315M1056 1370.7L1090 1372.3H1102L1136 1370.7M1056 1422.3L1090 1433.3H1102L1136 1422.3M1056 1440.7L1090 1440.2H1102L1136 1440.7M1056 1458.7L1090 1450H1102L1136 1458.7M1056 1543.3L1090 1549.6H1102L1136 1543.3M1056 1561.7L1090 1557.6H1102L1136 1561.7M1056 1580L1090 1581.2H1102L1136 1580"/>
<path class="d" d="M1056 1132.7L1090 1150.7H1102M1056 1150.7L1090 1157.6H1102M1056 1187.3L1090 1169.1H1102M1056 1241.7L1090 1207.7H1102M1056 1315L1090 1299.8H1102M1056 1370.7L1090 1372.3H1102M1056 1440.7L1090 1440.2H1102M1056 1458.7L1090 1450H1102M1056 1543.3L1090 1549.6H1102"/>
<path class="b" d="M1169 1135.2L1194 1142L1169 1146.2M1169 1171.2L1194 1176L1169 1182.8M1169 1208.2L1194 1216L1169 1218.8M1169 1225.8L1194 1233.5L1169 1237.2M1170 1320L1191.7 1343.3L1168.3 1366.7M1169 1443.2L1194 1448.5L1169 1454.2"/>
</g>
</svg>
